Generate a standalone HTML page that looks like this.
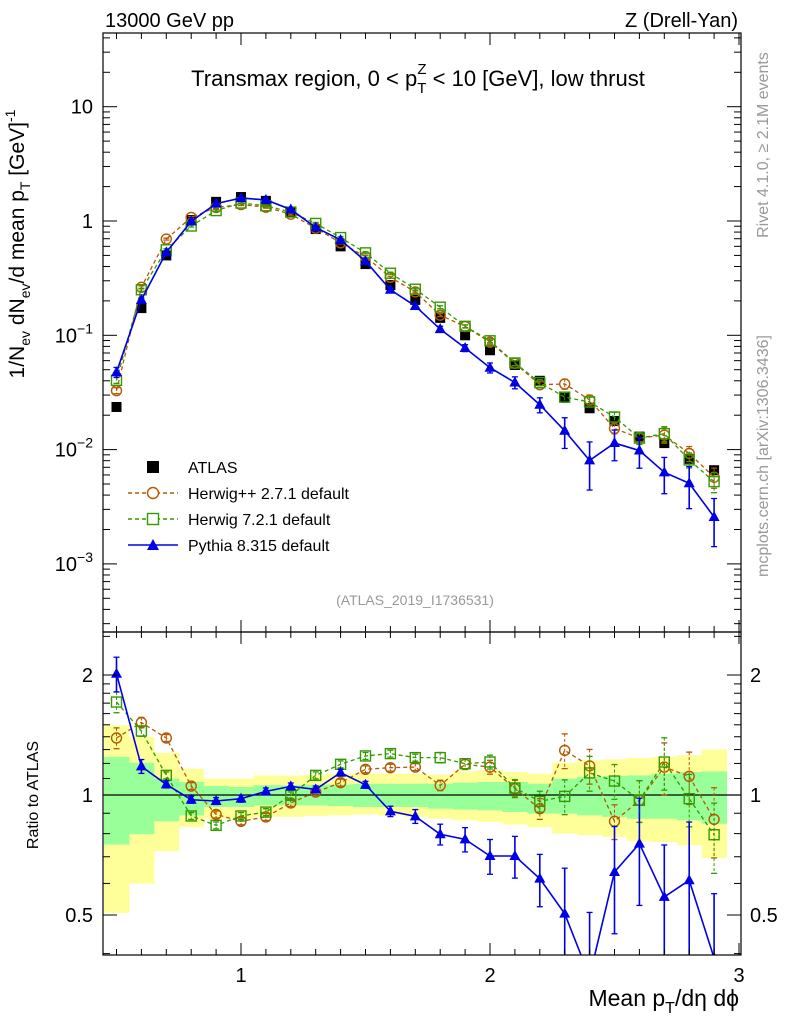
<!DOCTYPE html>
<html><head><meta charset="utf-8"><style>
body{margin:0;background:#fff}
svg{font-family:"Liberation Sans",sans-serif}
</style></head><body>
<svg id="c" width="786" height="1024" xmlns="http://www.w3.org/2000/svg"></svg>
<script>
const xs=[0.5,0.6,0.7,0.8,0.9,1.0,1.1,1.2,1.3,1.4,1.5,1.6,1.7,1.8,1.9,2.0,2.1,2.2,2.3,2.4,2.5,2.6,2.7,2.8,2.9];
const atlas=[0.0236,0.173,0.50,1.02,1.47,1.62,1.50,1.20,0.85,0.60,0.42,0.275,0.204,0.142,0.100,0.074,0.055,0.040,0.029,0.023,0.0178,0.013,0.0114,0.0083,0.0066];
const rHpp=[1.39,1.52,1.39,1.053,0.894,0.859,0.881,0.955,1.017,1.074,1.160,1.171,1.175,1.057,1.194,1.175,1.037,0.924,1.294,1.183,0.859,0.970,1.175,1.114,0.869];
const rH7=[1.711,1.447,1.12,0.886,0.839,0.886,0.906,0.998,1.12,1.194,1.253,1.27,1.241,1.241,1.198,1.21,1.041,0.964,0.992,1.136,1.084,0.97,1.21,0.979,0.795];
const rPy=[2.015,1.18,1.063,0.973,0.966,0.979,1.021,1.051,1.033,1.138,1.061,0.910,0.884,0.797,0.774,0.703,0.703,0.617,0.504,0.35,0.641,0.755,0.555,0.611,0.39];
const ePy=[0.1,0.04,0.02,0.02,0.02,0.02,0.02,0.02,0.02,0.02,0.02,0.03,0.04,0.06,0.07,0.1,0.12,0.15,0.3,0.45,0.3,0.3,0.35,0.4,0.45];
const eHw=[0.06,0.03,0.02,0.02,0.02,0.02,0.02,0.02,0.02,0.02,0.02,0.02,0.02,0.03,0.03,0.04,0.05,0.06,0.1,0.1,0.1,0.12,0.15,0.15,0.2];
const yelHi=[1.496,1.398,1.277,1.164,1.099,1.099,1.120,1.120,1.124,1.131,1.131,1.131,1.131,1.124,1.146,1.153,1.142,1.131,1.205,1.222,1.229,1.238,1.246,1.258,1.302];
const yelLo=[0.506,0.599,0.723,0.831,0.869,0.872,0.881,0.881,0.886,0.889,0.893,0.889,0.881,0.872,0.864,0.856,0.843,0.831,0.800,0.792,0.785,0.765,0.762,0.748,0.695];
const grnHi=[1.246,1.205,1.099,1.078,1.053,1.047,1.058,1.058,1.062,1.062,1.067,1.067,1.067,1.067,1.074,1.078,1.078,1.067,1.099,1.11,1.116,1.120,1.131,1.142,1.146];
const grnLo=[0.751,0.797,0.859,0.889,0.933,0.933,0.942,0.942,0.942,0.938,0.933,0.933,0.933,0.924,0.919,0.915,0.906,0.898,0.898,0.889,0.881,0.872,0.872,0.864,0.847];
const ratioTicks=[0.5,1,2];
const mainTicks=[0.001,0.01,0.1,1,10];

const S=document.getElementById('c');const NS='http://www.w3.org/2000/svg';
function el(t,a,p){const e=document.createElementNS(NS,t);for(const k in a)e.setAttribute(k,a[k]);(p||S).appendChild(e);return e;}
const L=103,R=741,T1=33,B1=632,T2=632,B2=955;
const X=v=>241+(v-1)*249;
const Y=v=>221-Math.log10(v)*114.3;
const YR=v=>795-Math.log2(v)*120;
const cl=v=>Math.max(-50,Math.min(1100,v));

const defs=el('defs',{});
const c1=el('clipPath',{id:'c1'},defs);el('rect',{x:L,y:T1,width:R-L,height:B1-T1},c1);
const c2=el('clipPath',{id:'c2'},defs);el('rect',{x:L,y:T2,width:R-L,height:B2-T2},c2);

const gb=el('g',{'clip-path':'url(#c2)'});

xs.forEach((x,i)=>{
 const r=el('rect',{x:X(x-0.05),y:YR(yelHi[i]),width:X(x+0.05)-X(x-0.05)+0.5,height:YR(yelLo[i])-YR(yelHi[i]),fill:'#ffff99'},gb);
 
});
xs.forEach((x,i)=>{
 const r=el('rect',{x:X(x-0.05),y:YR(grnHi[i]),width:X(x+0.05)-X(x-0.05)+0.5,height:YR(grnLo[i])-YR(grnHi[i]),fill:'#99ff99'},gb);
 
});
el('line',{x1:L,x2:R,y1:YR(1),y2:YR(1),stroke:'#000','stroke-width':1.2},gb);

function series(g,vals,errs,color,dash,marker,Yf,name,noline){
 const pts=xs.map((x,i)=>[X(x),Yf(vals[i])]);
 if(!noline){
 const pl=el('polyline',{points:pts.map(p=>p[0]+','+cl(p[1])).join(' '),fill:'none',stroke:color,'stroke-width':dash?1.3:1.6,'stroke-dasharray':dash||'none'},g);
 }
 xs.forEach((x,i)=>{
  const px=X(x),py=Yf(vals[i]);
  if(errs){const y1=Yf(vals[i]*(1+errs[i])),y2=Yf(Math.max(vals[i]*(1-errs[i]),1e-6));
   el('line',{x1:px,x2:px,y1:cl(y1),y2:cl(y2),stroke:color,'stroke-width':dash?1:1.6,'stroke-dasharray':dash?'3,2':'none'},g);
   el('line',{x1:px-3,x2:px+3,y1:y1,y2:y1,stroke:color,'stroke-width':1.3},g);
   el('line',{x1:px-3,x2:px+3,y1:y2,y2:y2,stroke:color,'stroke-width':1.3},g);}
  let m;
  if(marker==='c')m=el('circle',{cx:px,cy:py,r:5,fill:'none',stroke:color,'stroke-width':1.4},g);
  else if(marker==='s')m=el('rect',{x:px-5,y:py-5,width:10,height:10,fill:'none',stroke:color,'stroke-width':1.4},g);
  else if(marker==='t')m=el('polygon',{points:`${px},${py-6} ${px-5.5},${py+4} ${px+5.5},${py+4}`,fill:color},g);
  else m=el('rect',{x:px-5,y:py-5,width:10,height:10,fill:'#000'},g);
  
 });
}
const gm=el('g',{'clip-path':'url(#c1)'});

series(gm,atlas,null,'#000',null,'b',Y,'atlas',true);
series(gm,xs.map((x,i)=>atlas[i]*rHpp[i]),eHw,'#b35900','4,3','c',Y,'herwigpp');
series(gm,xs.map((x,i)=>atlas[i]*rH7[i]),eHw,'#339900','4,3','s',Y,'herwig7');
series(gm,xs.map((x,i)=>atlas[i]*rPy[i]),ePy,'#0000e6',null,'t',Y,'pythia');
const gr=el('g',{'clip-path':'url(#c2)'});

series(gr,rHpp,eHw,'#b35900','4,3','c',YR,'ratio-herwigpp');
series(gr,rH7,eHw,'#339900','4,3','s',YR,'ratio-herwig7');
series(gr,rPy,ePy,'#0000e6',null,'t',YR,'ratio-pythia');

el('rect',{x:L,y:T1,width:R-L,height:B1-T1,fill:'none',stroke:'#000','stroke-width':1.2});
el('rect',{x:L,y:T2,width:R-L,height:B2-T2,fill:'none',stroke:'#000','stroke-width':1.2});
for(let k=5;k<=30;k++){const v=k/10,px=X(v);const big=k%10===0;const len=big?12:6;
 [[T1,1],[B1,-1],[T2,1],[B2,-1]].forEach(([y,d])=>el('line',{x1:px,x2:px,y1:y,y2:y+d*len,stroke:'#000'}));
 if(big){const t=el('text',{x:px,y:982,'font-size':20,'text-anchor':'middle'});t.textContent=String(k/10);
  }
}
mainTicks.forEach(v=>{
 const py=Y(v);[[L,1],[R,-1]].forEach(([x,d])=>el('line',{x1:x,x2:x+d*14,y1:py,y2:py,stroke:'#000'}));
 for(let m=2;m<=9;m++){const q=Y(v*m);if(q>T1&&q<B1)[[L,1],[R,-1]].forEach(([x,d])=>el('line',{x1:x,x2:x+d*7,y1:q,y2:q,stroke:'#000'}));}
 for(let m=2;m<=9;m++){const q=Y(v/10*m);if(v===0.001&&q>T1&&q<B1)[[L,1],[R,-1]].forEach(([x,d])=>el('line',{x1:x,x2:x+d*7,y1:q,y2:q,stroke:'#000'}));}
 const t=el('text',{x:93,y:py+7,'font-size':20,'text-anchor':'end'});
 
 if(v===1)t.textContent='1';else if(v===10)t.textContent='10';
 else{const e=Math.round(Math.log10(v));t.innerHTML='10<tspan dy="-9" font-size="14">'+'\u2212'+(-e)+'</tspan>';}
});
[0.4,0.5,0.6,0.7,0.8,0.9,1,1.1,1.2,1.3,1.4,1.5,1.6,1.7,1.8,1.9,2,2.5].forEach(v=>{const q=YR(v);if(q<T2||q>B2)return;
 const big=ratioTicks.includes(v);[[L,1],[R,-1]].forEach(([x,d])=>el('line',{x1:x,x2:x+d*(big?14:7),y1:q,y2:q,stroke:'#000'}));});
ratioTicks.forEach(v=>{const q=YR(v);
 const t=el('text',{x:93,y:q+7,'font-size':20,'text-anchor':'end'});t.textContent=String(v);
 
 const t2=el('text',{x:750,y:q+7,'font-size':20});t2.textContent=String(v);
 });

function txt(x,y,s,html,attrs,name){const t=el('text',Object.assign({x:x,y:y,'font-size':s},attrs||{}));t.innerHTML=html;
 return t;}
txt(105,27,20,'13000 GeV pp',{},'energy-label');
txt(738,27,20,'Z (Drell-Yan)',{'text-anchor':'end'},'process-label');
txt(418,86,22,'Transmax region, 0 &lt; p<tspan dy="7" font-size="15">T</tspan><tspan dy="-19" font-size="15" dx="-9">Z</tspan><tspan dy="12"> &lt; 10 [GeV], low thrust</tspan>',{'text-anchor':'middle'},'plot-title');
txt(415,605,14,'(ATLAS_2019_I1736531)',{'text-anchor':'middle',fill:'#999'},'analysis-id');
txt(739,1006,23,'Mean p<tspan dy="7" font-size="16">T</tspan><tspan dy="-7">/dη dϕ</tspan>',{'text-anchor':'end'},'x-axis-title');
txt(0,0,21,'1/N<tspan dy="6" font-size="14">ev</tspan><tspan dy="-6"> dN</tspan><tspan dy="6" font-size="14">ev</tspan><tspan dy="-6">/d mean p</tspan><tspan dy="6" font-size="14">T</tspan><tspan dy="-6"> [GeV]</tspan><tspan dy="-9" font-size="14">-1</tspan>',{transform:'translate(24,244) rotate(-90)','text-anchor':'middle'},'y-axis-title');
txt(0,0,16,'Ratio to ATLAS',{transform:'translate(38,795) rotate(-90)','text-anchor':'middle'},'ratio-axis-title');
txt(0,0,16,'Rivet 4.1.0, ≥ 2.1M events',{transform:'translate(768,145) rotate(-90)','text-anchor':'middle',fill:'#999'},'rivet-label');
txt(0,0,16,'mcplots.cern.ch [arXiv:1306.3436]',{transform:'translate(768,456) rotate(-90)','text-anchor':'middle',fill:'#999'},'mcplots-label');

const lg=el('g',{});
const leg=[['ATLAS','#000',null,'b'],['Herwig++ 2.7.1 default','#b35900','4,3','c'],['Herwig 7.2.1 default','#339900','4,3','s'],['Pythia 8.315 default','#0000e6',null,'t']];
leg.forEach((d,i)=>{const y=467+i*26;const cx=153;
 const g=el('g',{},lg);
 if(i>0)el('line',{x1:128,x2:178,y1:y,y2:y,stroke:d[1],'stroke-width':1.4,'stroke-dasharray':d[2]||'none'},g);
 if(d[3]==='b')el('rect',{x:cx-6,y:y-6,width:12,height:12,fill:'#000'},g);
 if(d[3]==='c')el('circle',{cx:cx,cy:y,r:5.5,fill:'#fff',stroke:d[1],'stroke-width':1.4},g);
 if(d[3]==='s')el('rect',{x:cx-5.5,y:y-5.5,width:11,height:11,fill:'#fff',stroke:d[1],'stroke-width':1.4},g);
 if(d[3]==='t')el('polygon',{points:`${cx},${y-6} ${cx-6},${y+5} ${cx+6},${y+5}`,fill:d[1]},g);
 const t=el('text',{x:188,y:y+6,'font-size':16},g);t.textContent=d[0];
});
</script>
</body></html>
